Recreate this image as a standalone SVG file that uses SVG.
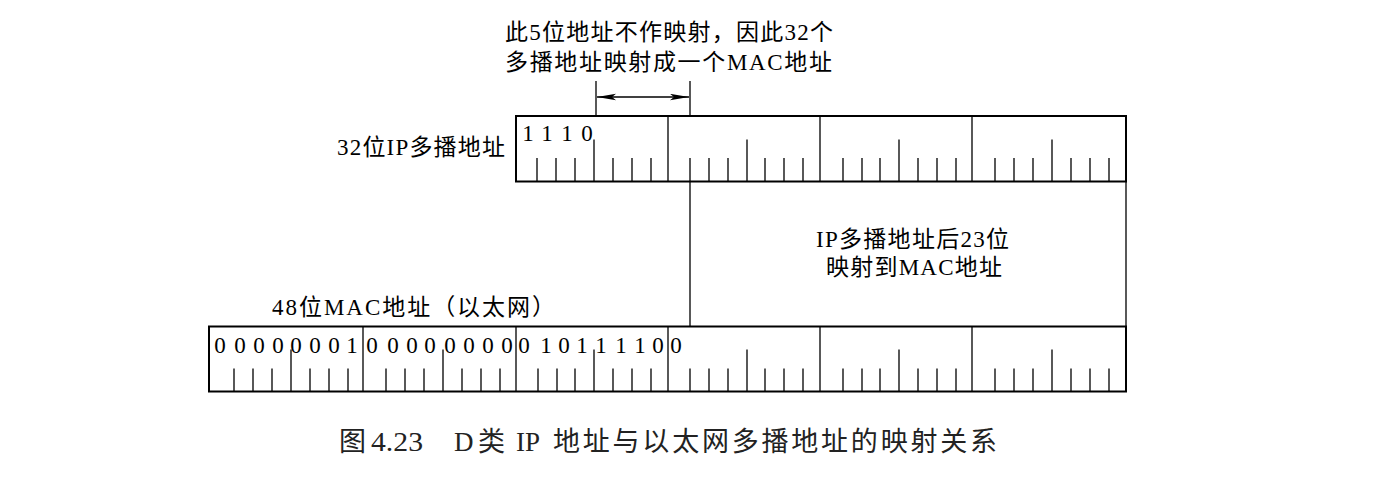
<svg xmlns="http://www.w3.org/2000/svg" width="1381" height="480" viewBox="0 0 1381 480">
<style>
.box{fill:none;stroke:#000;stroke-width:2}
.tk{fill:none;stroke:#000;stroke-width:1.3}
.ln{fill:none;stroke:#000;stroke-width:1.3}
.t{font-family:"Liberation Serif","Noto Sans CJK SC",serif;fill:#000;font-size:23px}
.d{font-family:"Liberation Serif",serif;fill:#000;font-size:23px;text-anchor:middle}
.cap{font-family:"Liberation Serif","Noto Sans CJK SC",serif;fill:#222;font-size:27px}
</style>
<defs>
<marker id="ah" markerUnits="userSpaceOnUse" markerWidth="20" markerHeight="8" refX="19" refY="3.5" orient="auto-start-reverse" viewBox="0 0 20 8">
<path d="M0,0.3 L19,3.5 L0,6.7 L4,3.5 Z" fill="#000"/>
</marker>
</defs>
<rect width="1381" height="480" fill="#fff"/>

<g id="note">
<text class="t" x="505" y="40" textLength="328" lengthAdjust="spacing">此5位地址不作映射，因此32个</text>
<text class="t" x="505" y="70" textLength="327" lengthAdjust="spacing">多播地址映射成一个MAC地址</text>
</g>

<g id="ip-address">
<text class="t" x="337" y="155" textLength="168" lengthAdjust="spacing">32位IP多播地址</text>
<rect class="box" x="516" y="116" width="610" height="65.5"/>
<path class="tk" d="M668,116V181.5M820,116V181.5M972,116V181.5"/>
<path class="tk" d="M537,158V181.5M556,158V181.5M575,158V181.5M613,158V181.5M632,158V181.5M651,158V181.5
M690,158V181.5M709,158V181.5M728,158V181.5M765,158V181.5M784,158V181.5M803,158V181.5
M843,158V181.5M862,158V181.5M880,158V181.5M918,158V181.5M937,158V181.5M956,158V181.5
M995,158V181.5M1014,158V181.5M1033,158V181.5M1071,158V181.5M1090,158V181.5M1109,158V181.5"/>
<path class="tk" d="M594,139.5V181.5M747,139.5V181.5M899,139.5V181.5M1052,139.5V181.5"/>
<text class="d" x="528 547 567 587" y="141">1110</text>
</g>

<g id="mac-address">
<text class="t" x="272" y="315" textLength="283" lengthAdjust="spacing">48位MAC地址（以太网）</text>
<rect class="box" x="209" y="326.5" width="917" height="65"/>
<path class="tk" d="M363,326.5V391.5M516,326.5V391.5M668,326.5V391.5M820,326.5V391.5M972,326.5V391.5"/>
<path class="tk" d="M234,368.5V391.5M253,368.5V391.5M272,368.5V391.5M310,368.5V391.5M329,368.5V391.5M348,368.5V391.5
M386,368.5V391.5M405,368.5V391.5M424,368.5V391.5M462,368.5V391.5M481,368.5V391.5M500,368.5V391.5
M538,368.5V391.5M557,368.5V391.5M575,368.5V391.5M613,368.5V391.5M632,368.5V391.5M651,368.5V391.5
M690,368.5V391.5M709,368.5V391.5M728,368.5V391.5M765,368.5V391.5M784,368.5V391.5M803,368.5V391.5
M843,368.5V391.5M862,368.5V391.5M880,368.5V391.5M918,368.5V391.5M937,368.5V391.5M956,368.5V391.5
M995,368.5V391.5M1014,368.5V391.5M1033,368.5V391.5M1071,368.5V391.5M1090,368.5V391.5M1109,368.5V391.5"/>
<path class="tk" d="M291,349.5V391.5M443,349.5V391.5M594,349.5V391.5M747,349.5V391.5M899,349.5V391.5M1052,349.5V391.5"/>
<text class="d" x="220 240 259 278 296 315 334 352" y="353">00000001</text>
<text class="d" x="372 393 412 430 450 469 488 507" y="353">00000000</text>
<text class="d" x="524 546 564 582 601 621 640 658" y="353">01011110</text>
<text class="d" x="676" y="353">0</text>
</g>

<g id="mapping-label">
<text class="t" x="816" y="247" textLength="193" lengthAdjust="spacing">IP多播地址后23位</text>
<text class="t" x="826" y="275" textLength="176" lengthAdjust="spacing">映射到MAC地址</text>
</g>

<g id="connectors">
<path class="ln" d="M596,81V116M690,81V116"/>
<path class="ln" d="M597,97H689" marker-start="url(#ah)" marker-end="url(#ah)"/>
<path class="ln" d="M690,181.5V326.5M1126,181.5V326.5"/>
</g>

<g id="caption">
<text class="cap" y="451"><tspan x="339">图</tspan><tspan x="371" textLength="52" lengthAdjust="spacingAndGlyphs">4.23</tspan><tspan x="454">D</tspan><tspan x="478">类</tspan><tspan x="516">IP</tspan><tspan x="553" textLength="444" lengthAdjust="spacing">地址与以太网多播地址的映射关系</tspan></text>
</g>
</svg>
